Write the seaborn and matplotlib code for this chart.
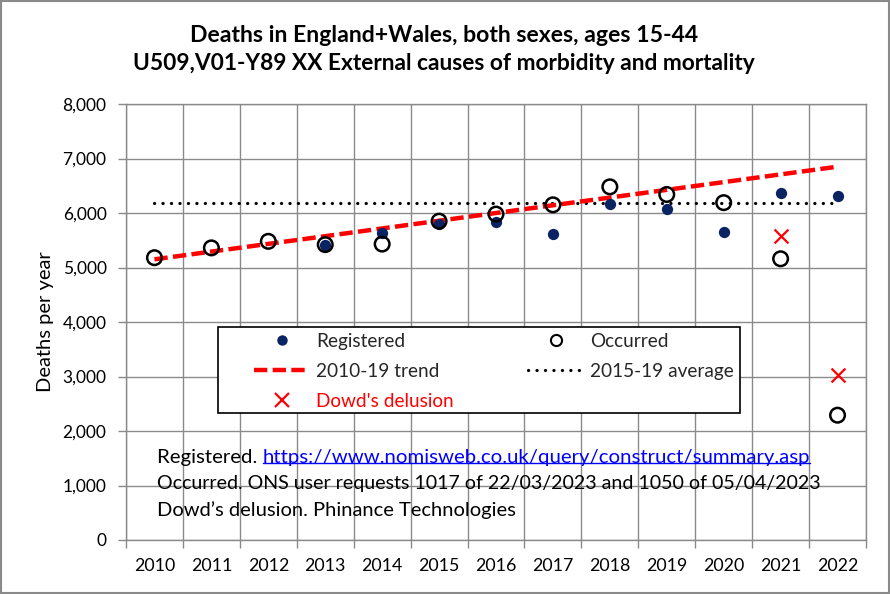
import numpy as np
import pandas as pd
import seaborn as sns
import matplotlib.pyplot as plt
from matplotlib.lines import Line2D
from matplotlib.patches import Rectangle
from matplotlib.ticker import FuncFormatter, FixedLocator

# ---------------- data ----------------
years = list(range(2010, 2023))
registered = [np.nan, np.nan, np.nan, 5420, 5640, 5790, 5830, 5620, 6160, 6080, 5660, 6370, 6320]
occurred = [5180, 5360, 5480, 5420, 5430, 5850, 5980, 6150, 6480, 6340, 6190, 5160, 2290]
dowd_years = [2021, 2022]
dowd = [5570, 3030]
trend_years = [2010, 2022]
trend_vals = [5150, 6850]
avg_years = [2010, 2022]
avg_vals = [6180, 6180]
y_ticks = list(range(0, 8001, 1000))
x_labels = [str(y) for y in years]

title1 = "Deaths in England+Wales, both sexes, ages 15-44"
title2 = "U509,V01-Y89 XX External causes of morbidity and mortality"
src_lines = ["Registered. ",
             "https://www.nomisweb.co.uk/query/construct/summary.asp",
             "Occurred. ONS user requests 1017 of 22/03/2023 and 1050 of 05/04/2023",
             "Dowd\u2019s delusion. Phinance Technologies"]

NAVY = "#0a2463"
GRID = "#8a8a8a"

sns.set_theme(style="white")
plt.rcParams['font.family'] = ['Lato', 'DejaVu Sans']

W, H = 890, 594
fig = plt.figure(figsize=(W / 100, H / 100), dpi=100)
ax = fig.add_axes([126 / W, 54 / H, 740 / W, 436 / H])

df_reg = pd.DataFrame({"year": years, "v": registered})
df_occ = pd.DataFrame({"year": years, "v": occurred})
df_dowd = pd.DataFrame({"year": dowd_years, "v": dowd})
df_tr = pd.DataFrame({"year": trend_years, "v": trend_vals})
df_avg = pd.DataFrame({"year": avg_years, "v": avg_vals})

sns.lineplot(data=df_avg, x="year", y="v", ax=ax, color="black", lw=2.3,
             linestyle=(0, (0.05, 2.6)), dash_capstyle="round", zorder=3)
sns.lineplot(data=df_tr, x="year", y="v", ax=ax, color="#ff0000", lw=3.2,
             linestyle=(0, (3.0, 1.2)), zorder=3)
sns.scatterplot(data=df_reg, x="year", y="v", ax=ax, color=NAVY, s=66,
                marker="o", edgecolor=NAVY, linewidth=0, zorder=4)
sns.scatterplot(data=df_occ, x="year", y="v", ax=ax, s=110, marker="o",
                facecolors="none", edgecolor="black", linewidth=1.8, zorder=5)
sns.scatterplot(data=df_dowd, x="year", y="v", ax=ax, s=100, marker="x",
                color="#ff0000", linewidth=1.6, zorder=5)

ax.set_xlim(2009.5, 2022.5)
ax.set_ylim(0, 8000)
ax.set_xlabel("")
ax.set_ylabel("Deaths per year", fontsize=14.5, color="black", labelpad=6)

ax.xaxis.set_major_locator(FixedLocator(years))
ax.set_xticklabels(x_labels)
ax.xaxis.set_minor_locator(FixedLocator([y - 0.5 for y in years] + [2022.5]))
ax.set_yticks(y_ticks)
ax.yaxis.set_major_formatter(FuncFormatter(lambda v, p: f"{int(v):,}"))

ax.tick_params(axis="x", which="major", length=0, pad=13, labelsize=12.8, labelcolor="black")
ax.tick_params(axis="x", which="minor", length=6, width=1, color=GRID, direction="out", bottom=True)
ax.tick_params(axis="y", which="major", length=6, width=1, color=GRID, direction="out",
               left=True, pad=8, labelsize=12.5, labelcolor="black")

ax.grid(True, which="major", axis="y", color=GRID, lw=1)
ax.grid(True, which="minor", axis="x", color=GRID, lw=1)
ax.set_axisbelow(True)
for s in ax.spines.values():
    s.set_color(GRID)
    s.set_linewidth(1)

# legend frame + legend
ax.add_patch(Rectangle(((218 - 126) / 740, (540 - 413) / 436), 522 / 740, 86 / 436,
                       transform=ax.transAxes, facecolor="white", edgecolor="black",
                       lw=1.2, zorder=6))
handles = [
    Line2D([], [], marker="o", color=NAVY, ls="none", markersize=7.5, markeredgewidth=0),
    Line2D([], [], color="#ff0000", lw=3.2, ls=(0, (3.0, 1.2))),
    Line2D([], [], marker="x", color="#ff0000", ls="none", markersize=10, markeredgewidth=1.6),
    Line2D([], [], marker="o", color="black", markerfacecolor="none", ls="none",
           markersize=8, markeredgewidth=1.5),
    Line2D([], [], color="black", lw=2.3, ls=(0, (0.05, 2.6)), dash_capstyle="round"),
]
labels = ["Registered", "2010-19 trend", "Dowd's delusion", "Occurred", "2015-19 average"]
leg = ax.legend(handles, labels, ncol=2, loc="upper left",
                bbox_to_anchor=((254 - 126) / 740, (540 - 333) / 436),
                frameon=False, handlelength=2.95, handletextpad=0.32, columnspacing=3.9,
                labelspacing=0.68, fontsize=13.7, borderpad=0, borderaxespad=0)
leg.set_zorder(7)
leg.get_texts()[2].set_color("#ff0000")

# source text
x0 = (157 - 126) / 740
t1 = ax.text(x0, (540 - 457) / 436, src_lines[0], transform=ax.transAxes,
             fontsize=14.7, va="center", ha="left", color="black", zorder=8)
t_url = ax.annotate(src_lines[1], xy=(1, 0), xycoords=t1, va="bottom", ha="left",
                    fontsize=14.7, color="#0000ff", zorder=8)
ax.text(x0, (540 - 484) / 436, src_lines[2], transform=ax.transAxes,
        fontsize=14.1, va="center", ha="left", color="black", zorder=8)
ax.text(x0, (540 - 510) / 436, src_lines[3], transform=ax.transAxes,
        fontsize=14.5, va="center", ha="left", color="black", zorder=8)

# titles
fig.text(444 / W, 1 - 42 / H, title1, ha="center", va="baseline", fontsize=16.6,
         fontweight="bold", color="black")
fig.text(444 / W, 1 - 70 / H, title2, ha="center", va="baseline", fontsize=16.4,
         fontweight="bold", color="black")

# outer border
fig.add_artist(Rectangle((1 / W, 1 / H), (W - 2) / W, (H - 2) / H, transform=fig.transFigure,
                         facecolor="none", edgecolor=GRID, lw=1.5))

# underline url
fig.canvas.draw()
bb = t_url.get_window_extent()
uy = bb.y0 + 3
fig.add_artist(Line2D([bb.x0 / W, bb.x1 / W], [uy / H, uy / H], transform=fig.transFigure,
                      color="#0000ff", lw=1))

fig.savefig("out.png", dpi=100, facecolor="white")
